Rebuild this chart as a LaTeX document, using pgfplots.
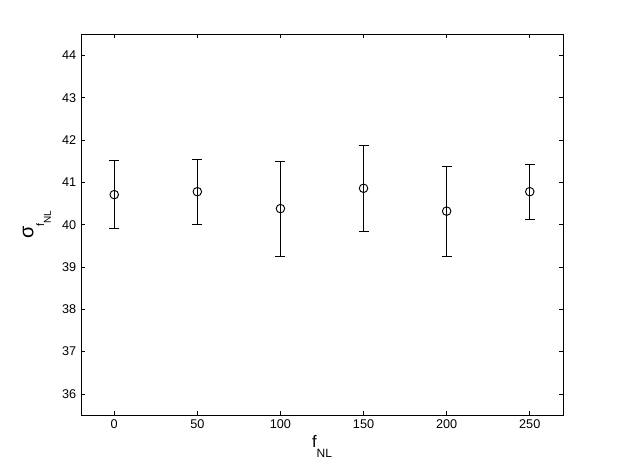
\documentclass[border=0pt]{standalone}
\usepackage{pgfplots}
\pgfplotsset{compat=1.18}
\usepackage{fontspec}
\setmainfont{Liberation Sans}
\begin{document}
\begin{tikzpicture}
  % image is 622x468 px, 1px = 0.75pt
  \path[use as bounding box] (-60.75pt,-39.75pt) rectangle (405.75pt,311.25pt);
  \begin{axis}[
      at={(0,0)}, anchor=south west,
      scale only axis,
      width=361.5pt, height=285.5pt,
      xmin=-20, xmax=270,
      ymin=35.5, ymax=44.5,
      xtick={0,50,...,250},
      ytick={36,37,...,44},
      tick align=inside,
      major tick length=3pt,
      axis line style={black, line width=0.5pt},
      every tick/.style={black, line width=0.5pt},
      tick label style={font=\fontsize{9.5}{11}\selectfont},
      /pgf/number format/assume math mode=true,
      xlabel={\fontsize{12.5}{14}\selectfont f\raisebox{-7.5pt}{\fontsize{9}{10}\selectfont NL}},
      xlabel style={at={(axis description cs:0.5,-0.0525)}, anchor=north, inner sep=0pt},
      ylabel={\fontsize{15}{17}\selectfont σ\raisebox{-8pt}{\fontsize{8}{9}\selectfont f\raisebox{-5pt}{\fontsize{7.5}{8}\selectfont NL}}},
      ylabel style={at={(axis description cs:-0.0622,0.5)}, anchor=south, inner sep=0pt},
    ]
    \addplot[black, line width=0.6pt, only marks,
      mark=o, mark size=3.2pt, mark options={line width=0.7pt},
      error bars/.cd, y dir=both, y explicit,
      error mark options={black, line width=0.6pt, mark size=3.75pt, rotate=90},
      error bar style={line width=0.6pt}]
      coordinates {
        (0,40.71)   +- (0,0.81)
        (50,40.78)  +- (0,0.77)
        (100,40.38) +- (0,1.12)
        (150,40.86) +- (0,1.01)
        (200,40.32) +- (0,1.06)
        (250,40.78) +- (0,0.65)
      };
  \end{axis}
\end{tikzpicture}
\end{document}
